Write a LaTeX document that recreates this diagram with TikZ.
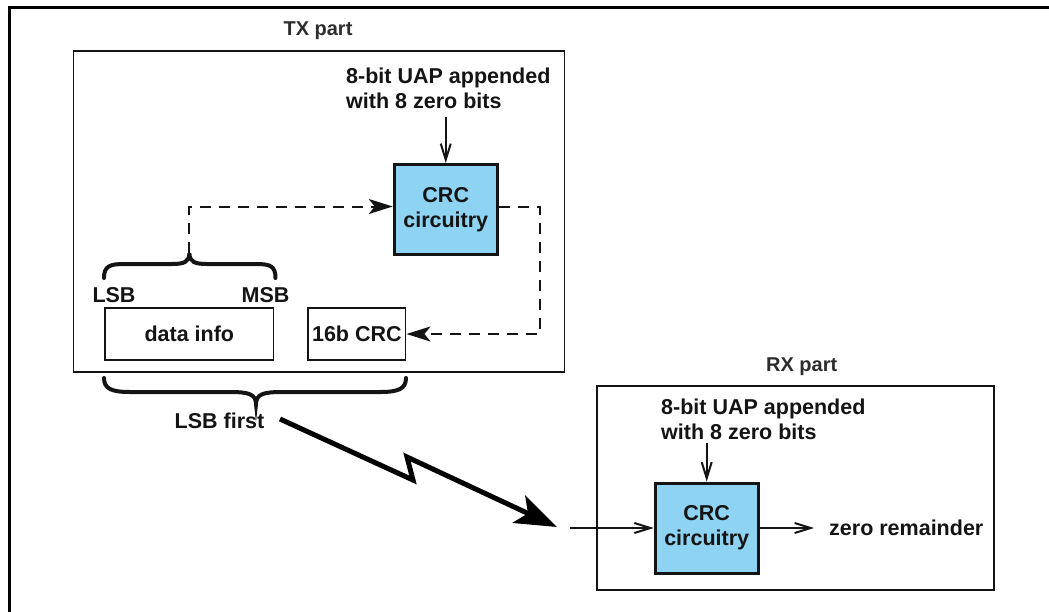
\documentclass[tikz,border=0pt]{standalone}
\usepackage{fontspec}
\setmainfont{Liberation Sans}
\usetikzlibrary{arrows.meta}
\definecolor{crcblue}{RGB}{142,211,242}
\definecolor{ink}{RGB}{20,20,20}
\begin{document}
\begin{tikzpicture}[x=1pt,y=-1pt,
  every node/.style={font=\bfseries\fontsize{21.5}{25}\selectfont, text=ink, inner sep=0pt},
  lbl/.style={font=\bfseries\fontsize{20}{24}\selectfont, text=ink!90},
  frame/.style={draw=ink, line width=1.8pt},
  crcbox/.style={draw=ink, line width=3pt, fill=crcblue, align=center, minimum width=103pt, minimum height=90pt},
  plainbox/.style={draw=ink, line width=1.5pt},
  dasharrow/.style={draw=ink, line width=2pt, dash pattern=on 11pt off 8pt, -{Stealth[length=24pt,width=15pt,inset=6pt]}},
  solidarrow/.style={draw=ink, line width=2pt, -{Straight Barb[length=16pt,width=10pt]}},
  bracepath/.style={draw=ink, line width=4pt, line cap=round},
  bolt/.style={draw=black, line width=5pt, line join=miter, -{Stealth[length=42pt,width=30pt,inset=10pt]}}
]
\useasboundingbox (0,0) rectangle (1049,611);
% outer frame
\draw[line width=3pt, black] (9.5,620) -- (9.5,7.5) -- (1060,7.5);

% ---------- TX part ----------
\node[lbl] (txlbl) at (318,31) {TX part};
\draw[frame] (73.5,50.7) rectangle (564.5,372.3);
\node[anchor=west, align=left] (uap1) at (346,88) {8-bit UAP appended\\with 8 zero bits};
\node[crcbox] (crc1) at (445.75,209.5) {CRC\\circuitry};
\coordinate (a1) at (445.75,117);
\draw[solidarrow] (a1) -- (crc1.north);

\node[plainbox, minimum width=168.6pt, minimum height=52pt] (data) at (189.3,334) {data info};
\node[plainbox, minimum width=97.7pt, minimum height=52pt] (crc16) at (356.85,334) {16b CRC};
\node (lsb) at (114,295) {LSB};
\node (msb) at (265.5,295) {MSB};

% upper brace
\coordinate (btip) at (189.4,253);
\draw[bracepath] (104,278) .. controls (104,266) and (110,264) .. (124,264)
  -- (172,264) .. controls (184,264) and (189.4,262) .. (btip)
  .. controls (189.4,262) and (195,264) .. (207,264)
  -- (256,264) .. controls (270,264) and (275.5,266) .. (275.5,278);
% dashed connectors
\coordinate (d1) at (189.4,206.5);
\draw[dasharrow] (btip) -- (d1) -- (crc1.west |- d1);
\coordinate (d2) at (539.6,206.5);
\coordinate (d3) at (539.6,334);
\draw[dasharrow] (crc1.east |- d2) -- (d2) -- (d3) -- (crc16.east);

% lower brace
\coordinate (ltip) at (256,404);
\draw[bracepath] (104,378) .. controls (104,389) and (112,392) .. (130,392)
  -- (230,392) .. controls (248,392) and (256,394) .. (ltip)
  .. controls (256,394) and (264,392) .. (282,392)
  -- (380,392) .. controls (398,392) and (406,389) .. (406,378);
\node (lsbfirst) at (219.5,421) {LSB first};

% lightning
\coordinate (l0) at (280,419);
\coordinate (l1) at (413,480);
\coordinate (l2) at (407,457);
\coordinate (l3) at (557,527);
\draw[bolt] (l0) -- (l1) -- (l2) -- (l3);

% ---------- RX part ----------
\node[lbl] (rxlbl) at (801.7,367) {RX part};
\draw[frame] (596.7,386) rectangle (994,590);
\node[anchor=west, align=left] (uap2) at (661,419) {8-bit UAP appended\\with 8 zero bits};
\node[crcbox] (crc2) at (706.7,528) {CRC\\circuitry};
\coordinate (a2) at (706.7,443);
\draw[solidarrow] (a2) -- (crc2.north);
\coordinate (in2) at (570,528);
\draw[solidarrow] (in2) -- (crc2.west);
\node[anchor=west] (zr) at (829,527.7) {zero remainder};
\coordinate (out2) at (814,528);
\draw[solidarrow] (crc2.east) -- (out2);
\end{tikzpicture}
\end{document}
